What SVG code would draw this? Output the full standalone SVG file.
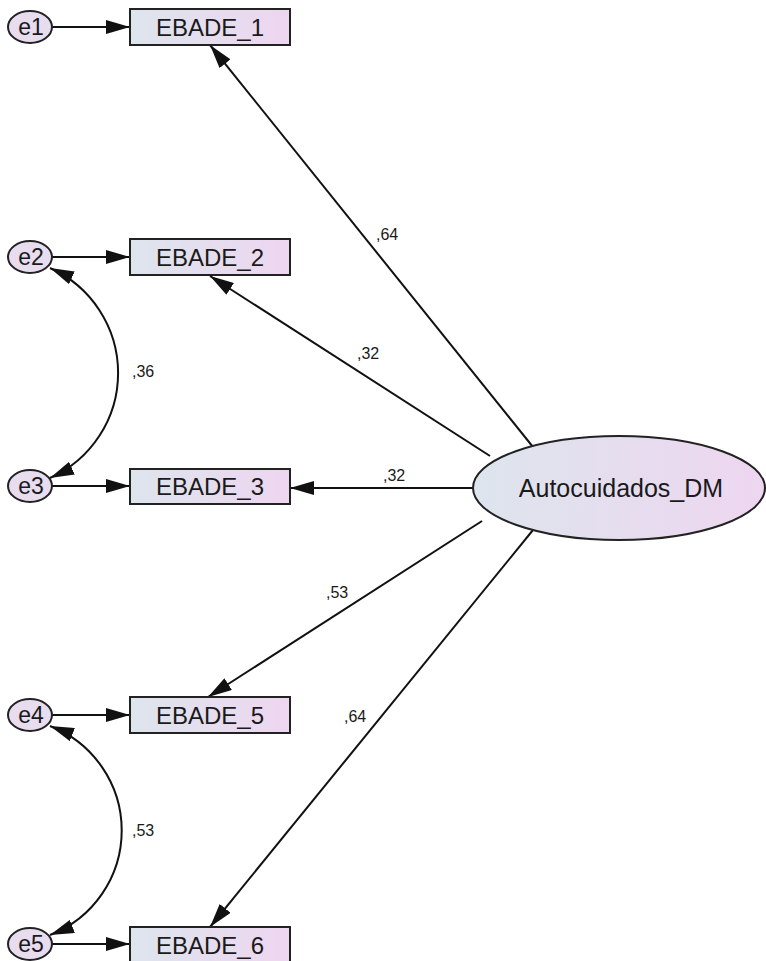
<svg xmlns="http://www.w3.org/2000/svg" width="766" height="961" viewBox="0 0 766 961">
<defs>
<linearGradient id="g" x1="0" y1="0" x2="1" y2="0">
<stop offset="0" stop-color="#dde5ed"/>
<stop offset="1" stop-color="#eed6f0"/>
</linearGradient>
<marker id="ah" markerUnits="userSpaceOnUse" markerWidth="24" markerHeight="14" refX="24" refY="7" orient="auto-start-reverse" viewBox="0 0 24 14">
<path d="M0,0 L24,7 L0,14 z" fill="#111"/>
</marker>
<style>
.box{fill:url(#g);stroke:#222;stroke-width:2}
.err{fill:#e8dcef;stroke:#222;stroke-width:2}
.lat{fill:url(#g);stroke:#222;stroke-width:2}
.t{font-family:"Liberation Sans",Arial,sans-serif;font-size:24px;fill:#1a1a1a;text-anchor:middle}
.lb{font-family:"Liberation Sans",Arial,sans-serif;font-size:16px;fill:#1a1a1a}
.c{stroke:#111;stroke-width:2;fill:none;marker-end:url(#ah)}
.cc{stroke:#111;stroke-width:2;fill:none;marker-end:url(#ah);marker-start:url(#ah)}
</style>
</defs>
<rect width="766" height="961" fill="#fff"/>
<g id="connectors">
<line class="c" x1="52" y1="27" x2="130" y2="27"/>
<line class="c" x1="52" y1="257" x2="130" y2="257"/>
<line class="c" x1="52" y1="486" x2="130" y2="486"/>
<line class="c" x1="52" y1="715" x2="130" y2="715"/>
<line class="c" x1="52" y1="944" x2="130" y2="944"/>
<line class="c" x1="533" y1="447" x2="210" y2="45"/>
<line class="c" x1="490" y1="456" x2="210" y2="276"/>
<line class="c" x1="473" y1="488" x2="290" y2="488"/>
<line class="c" x1="482" y1="521" x2="208" y2="697"/>
<line class="c" x1="533" y1="530" x2="210" y2="927"/>
<path class="cc" d="M50,268 A115,115 0 0 1 50,478"/>
<path class="cc" d="M50,726 A112,112 0 0 1 50,935"/>
</g>
<g id="labels">
<text class="lb" x="376" y="240">,64</text>
<text class="lb" x="357" y="359">,32</text>
<text class="lb" x="383" y="481">,32</text>
<text class="lb" x="326" y="598">,53</text>
<text class="lb" x="344" y="722">,64</text>
<text class="lb" x="132" y="377">,36</text>
<text class="lb" x="132" y="836">,53</text>
</g>
<g id="EBADE_1"><rect class="box" x="130" y="9" width="160" height="36"/><text class="t" x="210" y="36">EBADE_1</text></g>
<g id="EBADE_2"><rect class="box" x="130" y="239" width="160" height="36"/><text class="t" x="210" y="266">EBADE_2</text></g>
<g id="EBADE_3"><rect class="box" x="130" y="469" width="160" height="35"/><text class="t" x="210" y="495">EBADE_3</text></g>
<g id="EBADE_5"><rect class="box" x="130" y="697" width="160" height="36"/><text class="t" x="210" y="724">EBADE_5</text></g>
<g id="EBADE_6"><rect class="box" x="130" y="927" width="160" height="36"/><text class="t" x="210" y="954">EBADE_6</text></g>
<g id="e1"><ellipse class="err" cx="30" cy="27" rx="22" ry="16"/><text class="t" x="31" y="35" style="font-size:23px">e1</text></g>
<g id="e2"><ellipse class="err" cx="30" cy="257" rx="22" ry="16"/><text class="t" x="31" y="265" style="font-size:23px">e2</text></g>
<g id="e3"><ellipse class="err" cx="30" cy="486" rx="22" ry="16"/><text class="t" x="31" y="494" style="font-size:23px">e3</text></g>
<g id="e4"><ellipse class="err" cx="30" cy="715" rx="22" ry="16"/><text class="t" x="31" y="723" style="font-size:23px">e4</text></g>
<g id="e5"><ellipse class="err" cx="30" cy="944" rx="22" ry="16"/><text class="t" x="31" y="952" style="font-size:23px">e5</text></g>
<g id="Autocuidados_DM"><ellipse class="lat" cx="619" cy="488" rx="146" ry="52"/><text class="t" x="621" y="497" style="font-size:25px">Autocuidados_DM</text></g>
</svg>
